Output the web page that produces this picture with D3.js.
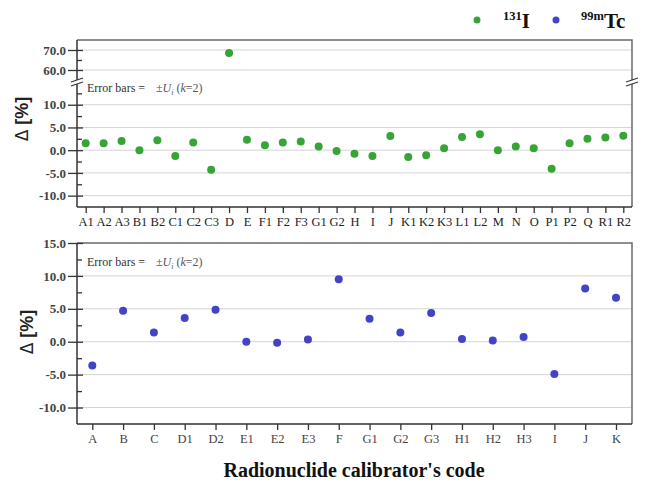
<!DOCTYPE html>
<html>
<head>
<meta charset="utf-8">
<script src="https://cdn.jsdelivr.net/npm/d3@7"></script>
<style>
  html, body { margin: 0; padding: 0; background: #fff; }
  svg { display: block; }
  text { font-family: "Liberation Serif", "Times New Roman", serif; }
</style>
</head>
<body>
<svg id="chart" width="648" height="484"></svg>
<script>
// 131I calibrator codes and deviations (%)
const iCodes = ["A1","A2","A3","B1","B2","C1","C2","C3","D","E","F1","F2","F3","G1","G2","H","I","J",
                "K1","K2","K3","L1","L2","M","N","O","P1","P2","Q","R1","R2"];
const iDelta = [1.5, 1.5, 2.0, 0.0, 2.2, -1.3, 1.7, -4.3, 68.5, 2.3, 1.1, 1.7, 1.9, 0.8, -0.2, -0.8, -1.3, 3.1,
                -1.5, -1.1, 0.4, 2.9, 3.5, 0.0, 0.8, 0.4, -4.1, 1.5, 2.5, 2.8, 3.2];

// 99mTc calibrator codes and deviations (%)
const tcCodes = ["A","B","C","D1","D2","E1","E2","E3","F","G1","G2","G3","H1","H2","H3","I","J","K"];
const tcDelta = [-3.6, 4.7, 1.4, 3.6, 4.85, 0.0, -0.15, 0.35, 9.5, 3.5, 1.4, 4.35, 0.4, 0.2, 0.7, -4.9, 8.1, 6.7];

// Tick values
const lowMajor = [-10, -5, 0, 5, 10];
const lowMinor = [-7.5, -2.5, 2.5, 7.5, 12.5];
const highMajor = [60, 70];
const highMinor = [65];
const tcMajor = [-10, -5, 0, 5, 10, 15];
const tcMinor = [-7.5, -2.5, 2.5, 7.5, 12.5];

const green = "#36a536";
const blue = "#4343c8";
const fmt = d => d.toFixed(1);

const svg = d3.select("#chart");

// ---------- panel geometry ----------
const L = 77, R = 632;
const top1 = 40, bot1 = 207, brk = 82;
const top2 = 243, bot2 = 424;

// ---------- scales ----------
const xI = d3.scalePoint().domain(iCodes).range([85.7, 623.3]);
const yLow = d3.scaleLinear().domain([-12.5, 15]).range([bot1, brk]);
const yHigh = d3.scaleLinear().domain([54, 75]).range([brk, top1]);
const xTc = d3.scalePoint().domain(tcCodes).range([92.3, 616]);
const yTc = d3.scaleLinear().domain([-12.5, 15]).range([bot2, top2]);

// ---------- gridlines ----------
function grid(vals, y) {
  svg.append("g").selectAll("line").data(vals).join("line")
    .attr("x1", L).attr("x2", R)
    .attr("y1", d => y(d)).attr("y2", d => y(d))
    .attr("stroke", "#d4d4d4").attr("stroke-width", 1);
}
grid(lowMajor, yLow);
grid(highMajor, yHigh);
grid(tcMajor.filter(d => d < 15), yTc);

// ---------- frames (top/right borders) ----------
function frame(t, b) {
  svg.append("path")
    .attr("d", `M${L},${t}H${R}V${b}`)
    .attr("fill", "none").attr("stroke", "#6a6a6a").attr("stroke-width", 1.5);
}
frame(top1, bot1);
frame(top2, bot2);

// ---------- y axes ----------
function yAxis(scale, major, minor) {
  const g = svg.append("g").attr("transform", `translate(${L},0)`);
  // major ticks with labels (outer part)
  const a = g.append("g").call(d3.axisLeft(scale).tickValues(major).tickFormat(fmt).tickSizeInner(9).tickSizeOuter(0).tickPadding(2));
  a.select(".domain").remove();
  a.selectAll("text").attr("font-size", 13).attr("font-weight", "bold").attr("fill", "#444")
    .attr("font-family", "Liberation Serif, serif");
  a.selectAll("line").attr("stroke", "#333").attr("stroke-width", 1.3);
  // inner part of major ticks
  const b = g.append("g").call(d3.axisLeft(scale).tickValues(major).tickFormat("").tickSizeInner(-6).tickSizeOuter(0));
  b.select(".domain").remove();
  b.selectAll("line").attr("stroke", "#333").attr("stroke-width", 1.3);
  // minor ticks inside
  const c = g.append("g").call(d3.axisLeft(scale).tickValues(minor).tickFormat("").tickSizeInner(-5).tickSizeOuter(0));
  c.select(".domain").remove();
  c.selectAll("line").attr("stroke", "#333").attr("stroke-width", 1.3);
}
yAxis(yLow, lowMajor, lowMinor);
yAxis(yHigh, highMajor, highMinor);
yAxis(yTc, tcMajor, tcMinor);

// left axis lines
svg.append("line").attr("x1", L).attr("x2", L).attr("y1", top1).attr("y2", bot1)
  .attr("stroke", "#333").attr("stroke-width", 1.5);
svg.append("line").attr("x1", L).attr("x2", L).attr("y1", top2).attr("y2", bot2)
  .attr("stroke", "#333").attr("stroke-width", 1.5);

// ---------- x axes ----------
function xAxis(scale, y, color) {
  const g = svg.append("g").attr("transform", `translate(0,${y})`)
    .call(d3.axisBottom(scale).tickSizeInner(6).tickSizeOuter(0).tickPadding(4));
  g.select(".domain").remove();
  g.selectAll("line").attr("stroke", "#333").attr("stroke-width", 1.3);
  g.selectAll("text").attr("font-size", 12.5).attr("fill", color).attr("font-family", "Liberation Serif, serif");
  svg.append("line").attr("x1", L).attr("x2", R).attr("y1", y).attr("y2", y)
    .attr("stroke", "#333").attr("stroke-width", 1.5);
}
xAxis(xI, bot1, "#222");
xAxis(xTc, bot2, "#444");

// ---------- axis break marks ----------
[L, R].forEach(x => {
  svg.append("rect").attr("x", x - 3).attr("y", brk - 2).attr("width", 6).attr("height", 4).attr("fill", "#fff");
  [-2, 2].forEach(o => {
    svg.append("line")
      .attr("x1", x - 6).attr("y1", brk + o + 2)
      .attr("x2", x + 6).attr("y2", brk + o - 2)
      .attr("stroke", "#333").attr("stroke-width", 1.2);
  });
});

// ---------- points ----------
svg.append("g").selectAll("circle").data(iCodes).join("circle")
  .attr("cx", d => xI(d))
  .attr("cy", (d, i) => iDelta[i] > 50 ? yHigh(iDelta[i]) : yLow(iDelta[i]))
  .attr("r", 4).attr("fill", green);

svg.append("g").selectAll("circle").data(tcCodes).join("circle")
  .attr("cx", d => xTc(d))
  .attr("cy", (d, i) => yTc(tcDelta[i]))
  .attr("r", 4).attr("fill", blue);

// ---------- error bar notes ----------
function note(y) {
  const t = svg.append("text").attr("x", 87).attr("y", y).attr("font-size", 12).attr("fill", "#333");
  t.append("tspan").text("Error bars =");
  t.append("tspan").attr("x", 156).attr("font-style", "italic").attr("fill", "#555").text("±U");
  t.append("tspan").attr("font-size", 8).attr("dy", 3).attr("font-style", "italic").attr("fill", "#555").text("i");
  t.append("tspan").attr("dy", -3).attr("fill", "#555").text(" (");
  t.append("tspan").attr("font-style", "italic").attr("fill", "#555").text("k");
  t.append("tspan").attr("fill", "#555").text("=2)");
}
note(92);
note(266);

// ---------- y-axis titles ----------
function yTitle(x, y) {
  const t = svg.append("text")
    .attr("transform", `translate(${x},${y}) rotate(-90)`)
    .attr("text-anchor", "middle").attr("font-size", 18).attr("fill", "#222");
  t.append("tspan").attr("font-family", "DejaVu Sans, sans-serif").attr("font-weight", "normal").attr("font-size", 17).text("Δ");
  t.append("tspan").attr("font-family", "Liberation Sans, Arial, sans-serif").attr("font-weight", "bold").text(" [%]");
}
yTitle(28, 119);
yTitle(33, 332);

// ---------- x-axis title ----------
svg.append("text").attr("x", 354).attr("y", 477).attr("text-anchor", "middle")
  .attr("font-size", 20).attr("font-weight", "bold").attr("fill", "#111")
  .text("Radionuclide calibrator's code");

// ---------- legend ----------
const legend = [
  { color: green, cx: 477, x: 503, sup: "131", main: "I" },
  { color: blue, cx: 556, x: 581, sup: "99m", main: "Tc" }
];
legend.forEach(d => {
  svg.append("circle").attr("cx", d.cx).attr("cy", 20).attr("r", 3.5).attr("fill", d.color);
  const t = svg.append("text").attr("x", d.x).attr("y", 28).attr("font-weight", "bold").attr("fill", "#111");
  t.append("tspan").attr("font-size", 12.5).attr("dy", -8).text(d.sup);
  t.append("tspan").attr("font-size", 21).attr("dy", 8).text(d.main);
});
</script>
</body>
</html>
